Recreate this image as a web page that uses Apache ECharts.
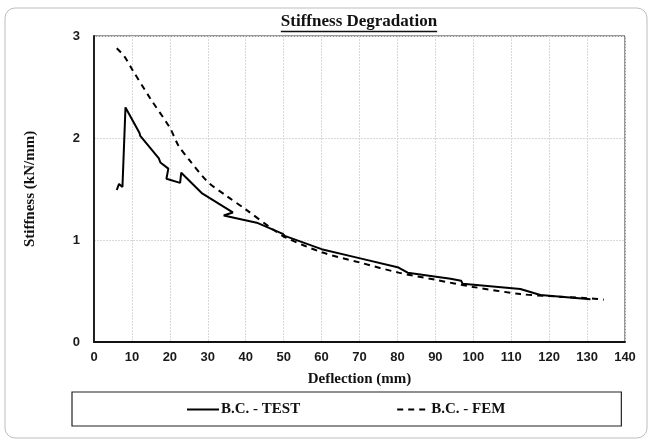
<!DOCTYPE html>
<html>
<head>
<meta charset="utf-8">
<script src="https://cdn.jsdelivr.net/npm/echarts@6/dist/echarts.min.js"></script>
<style>html,body{margin:0;padding:0;background:#fff}#c{width:653px;height:441px}</style>
</head>
<body>
<div id="c"></div>
<script>
const titleText = "Stiffness Degradation";
const xAxisName = "Deflection (mm)";
const yAxisName = "Stiffness (kN/mm)";
const seriesNames = ["B.C. - TEST", "B.C. - FEM"];

const testX = [6.0, 6.6, 7.5, 8.3, 12.0, 12.2, 17.1, 17.5, 17.3, 19.6, 19.1, 22.7, 23.0, 28.4, 36.6, 34.2, 42.9, 49.8, 50.3, 60.0, 70.2, 80.3, 82.7, 94.0, 96.8, 97.2, 112.4, 117.7, 130.9];
const testY = [1.49, 1.55, 1.52, 2.30, 2.05, 2.02, 1.80, 1.76, 1.77, 1.70, 1.60, 1.56, 1.66, 1.46, 1.27, 1.24, 1.17, 1.06, 1.04, 0.91, 0.82, 0.73, 0.68, 0.62, 0.60, 0.57, 0.52, 0.46, 0.42];

const femX = [6.0, 8.0, 10.1, 14.8, 20.0, 22.2, 25.0, 30.0, 35.0, 40.0, 47.3, 50.8, 60.0, 70.0, 80.3, 90.0, 100.0, 112.4, 120.0, 130.0, 134.4];
const femY = [2.88, 2.80, 2.67, 2.39, 2.10, 1.93, 1.79, 1.57, 1.43, 1.30, 1.10, 1.02, 0.88, 0.78, 0.68, 0.61, 0.54, 0.47, 0.45, 0.43, 0.415];

const xTicks = {min: 0, max: 140, interval: 10};
const yTicks = {min: 0, max: 3, interval: 1};

const zip = (xs, ys) => xs.map((x, i) => [x, ys[i]]);

const chart = echarts.init(document.getElementById('c'), null, {renderer: 'canvas'});

const titleFont = 'bold 17px "Liberation Serif"';
const cv = document.createElement('canvas').getContext('2d');
cv.font = titleFont;
const tw = cv.measureText(titleText).width;
const tcx = 359;

const labelFont = {fontFamily: 'Liberation Sans', fontWeight: 'bold', fontSize: 13, color: '#1a1a1a'};
const serifBold = {fontFamily: 'Liberation Serif', fontWeight: 'bold', color: '#111'};

chart.setOption({
  animation: false,
  backgroundColor: '#fff',
  graphic: [
    {type: 'rect', shape: {x: 5, y: 8, width: 642, height: 430, r: 10}, style: {fill: 'none', stroke: '#bdbdbd', lineWidth: 1}, silent: true, z: -1},
    {type: 'text', style: {text: titleText, x: tcx, y: 13, align: 'center', verticalAlign: 'top', font: titleFont, fill: '#111'}, silent: true},
    {type: 'line', shape: {x1: tcx - tw / 2, y1: 31.5, x2: tcx + tw / 2, y2: 31.5}, style: {stroke: '#111', lineWidth: 1.3}, silent: true}
  ],
  grid: {left: 94, right: 28, top: 36, bottom: 99, show: true, borderColor: '#333', borderWidth: 1},
  legend: {
    left: 72, top: 392,
    padding: [10, 116, 9, 114],
    itemGap: 96,
    itemWidth: 32, itemHeight: 14,
    borderColor: '#222', borderWidth: 1.2,
    itemStyle: {opacity: 0},
    textStyle: Object.assign({fontSize: 15, padding: [0, 0, 0, -3]}, serifBold),
    data: seriesNames
  },
  xAxis: {
    type: 'value', min: xTicks.min, max: xTicks.max, interval: xTicks.interval,
    name: xAxisName, nameLocation: 'middle', nameGap: 30,
    nameTextStyle: Object.assign({fontSize: 15}, serifBold),
    axisLine: {show: true, lineStyle: {color: '#111', width: 1.8}},
    axisTick: {show: false},
    axisLabel: Object.assign({margin: 9}, labelFont),
    splitLine: {show: true, lineStyle: {color: '#d9d9d9', width: 1, type: [2, 1]}}
  },
  yAxis: {
    type: 'value', min: yTicks.min, max: yTicks.max, interval: yTicks.interval,
    name: yAxisName, nameLocation: 'middle', nameGap: 56,
    nameTextStyle: Object.assign({fontSize: 15}, serifBold),
    axisLine: {show: true, lineStyle: {color: '#111', width: 1.8}},
    axisTick: {show: false},
    axisLabel: Object.assign({margin: 14}, labelFont),
    splitLine: {show: true, lineStyle: {color: '#d9d9d9', width: 1, type: [2, 1]}}
  },
  series: [
    {
      name: seriesNames[0], type: 'line', data: zip(testX, testY),
      symbol: 'none', smooth: false,
      lineStyle: {color: '#000', width: 2, type: 'solid'},
      itemStyle: {color: '#000'}
    },
    {
      name: seriesNames[1], type: 'line', data: zip(femX, femY),
      symbol: 'none', smooth: 0.3,
      lineStyle: {color: '#000', width: 2, type: [6, 5]},
      itemStyle: {color: '#000'}
    }
  ]
});
</script>
</body>
</html>
